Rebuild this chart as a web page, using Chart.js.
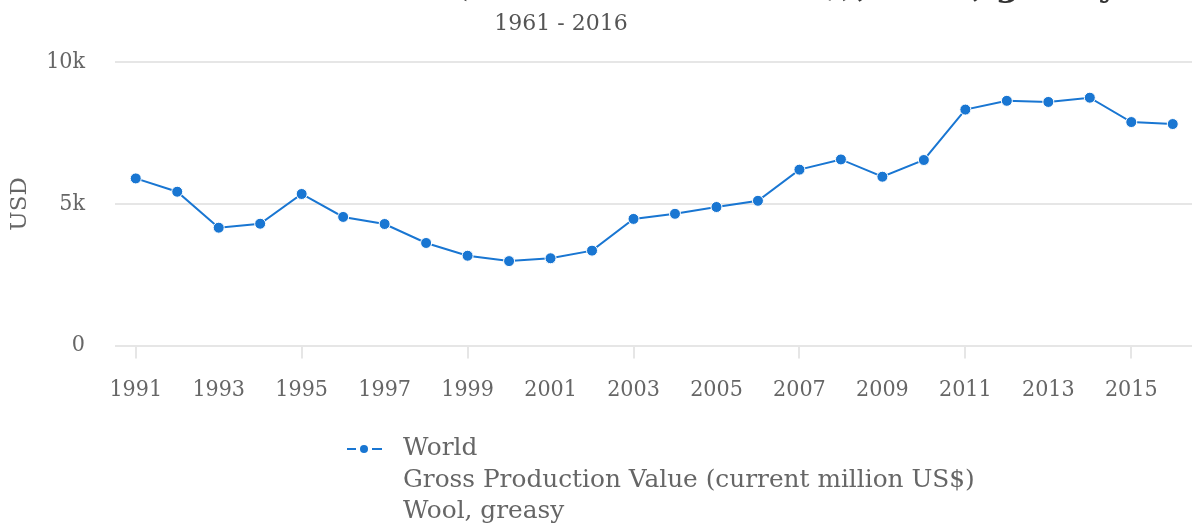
<!DOCTYPE html>
<html><head><meta charset="utf-8">
<script src="https://cdn.jsdelivr.net/npm/chart.js@4/dist/chart.umd.min.js"></script>
<style>
html,body{margin:0;padding:0;overflow:hidden;background:#fff;width:1192px;height:523px}
#wrap{position:absolute;left:0;top:0;width:1200px;height:523px}
</style>
</head><body><div id="wrap"><canvas id="c" width="1200" height="523"></canvas></div>
<script>
const years = ['1991','1992','1993','1994','1995','1996','1997','1998','1999','2000','2001','2002','2003','2004','2005','2006','2007','2008','2009','2010','2011','2012','2013','2014','2015','2016'];
const worldValues = [5900,5430,4160,4300,5350,4540,4290,3620,3170,2980,3080,3350,4470,4650,4890,5110,6210,6570,5960,6550,8330,8640,8600,8750,7890,7820];
const yTickValues = [0,5000,10000];
const yTickLabels = ['0','5k','10k'];
const seriesName = 'World';
const legendLines = ['World','Gross Production Value (current million US$)','Wool, greasy'];
const titleLead = 'Gross Production Value ';
const titleTail = '(current million US$), Wool, greasy';
const subtitleText = '1961 - 2016';
const yAxisTitle = 'USD';

const FONT_C = "'DejaVu Serif Condensed', 'DejaVu Serif', serif";
const FONT = "'DejaVu Serif', serif";
const BLUE = '#1976d2';
const GRID = '#e6e6e6';
const TEXT = '#666666';

const deco = {
  id: 'deco',
  afterDraw(chart) {
    const ctx = chart.ctx;
    ctx.save();
    // title (mostly above the visible area)
    ctx.font = `bold 100px ${FONT}`;
    const tailW = ctx.measureText(titleTail).width;
    const ts = 100 * 666 / tailW;
    ctx.font = `bold ${ts}px ${FONT}`;
    ctx.fillStyle = '#333';
    ctx.textAlign = 'right';
    ctx.textBaseline = 'alphabetic';
    ctx.fillText(titleLead + titleTail, 1118, -4);
    // subtitle
    ctx.fillStyle = '#555';
    ctx.font = `22px ${FONT}`;
    ctx.textAlign = 'center';
    ctx.textBaseline = 'middle';
    ctx.fillText(subtitleText, 561, 24);
    // legend
    const ds = chart.data.datasets[0];
    const ly = 449;
    ctx.strokeStyle = ds.borderColor;
    ctx.lineWidth = 2;
    ctx.beginPath();
    ctx.moveTo(347, ly); ctx.lineTo(356, ly);
    ctx.moveTo(372, ly); ctx.lineTo(382, ly);
    ctx.stroke();
    ctx.fillStyle = ds.backgroundColor;
    ctx.beginPath(); ctx.arc(364, ly, 4, 0, Math.PI * 2); ctx.fill();
    ctx.fillStyle = TEXT;
    ctx.font = `24.8px ${FONT}`;
    ctx.textAlign = 'left';
    legendLines.forEach((t, i) => ctx.fillText(t, 403, ly + i * 31.5));
    ctx.restore();
  }
};

new Chart(document.getElementById('c'), {
  type: 'line',
  data: {
    labels: years,
    datasets: [{
      label: seriesName,
      data: worldValues,
      borderColor: BLUE,
      backgroundColor: BLUE,
      borderWidth: 2,
      pointRadius: 5.5,
      pointBorderWidth: 1,
      pointBorderColor: '#ffffff',
      pointBackgroundColor: BLUE,
      tension: 0,
      fill: false
    }]
  },
  options: {
    responsive: false,
    animation: false,
    devicePixelRatio: 1,
    layout: { padding: { top: 62.3, left: 0, right: 4, bottom: 117.5 } },
    plugins: { legend: { display: false }, title: { display: false }, tooltip: { enabled: false } },
    scales: {
      x: {
        offset: true,
        afterFit: s => { s.height = 60; },
        border: { display: false },
        grid: {
          drawOnChartArea: false,
          drawTicks: true,
          tickLength: 13,
          lineWidth: 2,
          color: c => (c.index % 2 === 0 ? GRID : 'rgba(0,0,0,0)')
        },
        ticks: {
          autoSkip: false,
          maxRotation: 0,
          padding: 18,
          color: TEXT,
          font: { family: FONT_C, size: 23 },
          callback: function (v, i) { return i % 2 === 0 ? this.getLabelForValue(v) : null; }
        }
      },
      y: {
        min: 0,
        max: 10000,
        afterFit: s => { s.width = 115; },
        afterBuildTicks: s => { s.ticks = yTickValues.map(v => ({ value: v })); },
        border: { display: false },
        grid: { drawTicks: false, color: GRID, lineWidth: 2 },
        title: { display: true, text: yAxisTitle, color: TEXT, font: { family: FONT, size: 23 }, padding: { top: 6, bottom: 0 } },
        ticks: {
          padding: 30,
          color: TEXT,
          font: { family: FONT_C, size: 23 },
          callback: v => yTickLabels[yTickValues.indexOf(v)]
        }
      }
    }
  },
  plugins: [deco]
});
</script>
</body></html>
